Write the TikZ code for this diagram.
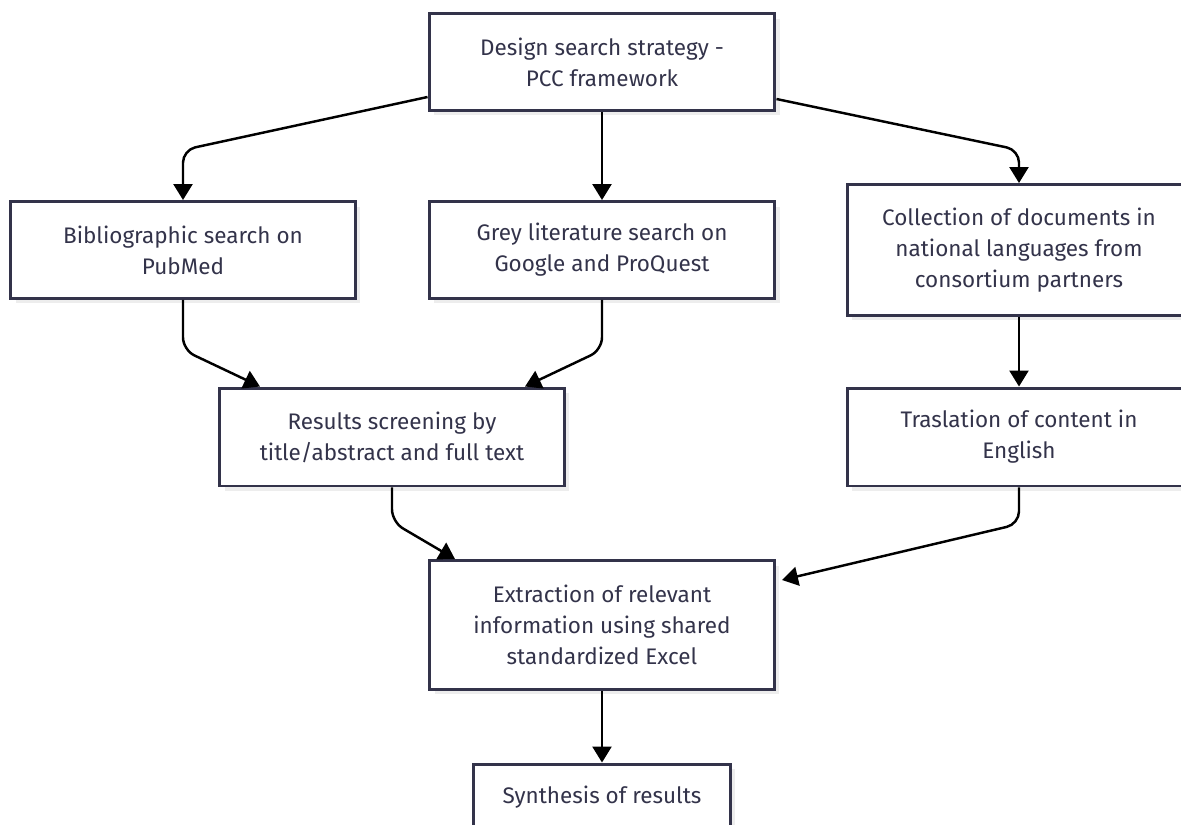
\documentclass[tikz,border=0pt]{standalone}
\usepackage{fontspec}
\setmainfont{Fira Sans}
\usetikzlibrary{arrows.meta,calc,shadows}

\definecolor{boxline}{HTML}{33334A}
\definecolor{boxtext}{HTML}{33334A}

\begin{document}
\begin{tikzpicture}[x=0.02cm, y=-0.02cm,
    box/.style={draw=boxline, line width=1.7pt, fill=white, text=boxtext,
        align=center, inner sep=0pt,
        font=\fontsize{12.8}{17.6}\selectfont,
        drop shadow={shadow xshift=0.1cm, shadow yshift=-0.1cm, fill=black!7, opacity=1}},
    arr/.style={line width=1.4pt, rounded corners=0.25cm,
        -{Triangle[length=0.32cm, width=0.38cm]}}]

        % === FRAME ===
        \useasboundingbox (0,0) rectangle (1181,825);
        \clip (0,0) rectangle (1181,825);

        % === BOXES ===
        \node[box, minimum width=6.92cm, minimum height=1.94cm] (design) at (602,62)
            {Design search strategy -\\PCC framework};
        \node[box, minimum width=6.9cm, minimum height=1.94cm] (biblio) at (183,250)
            {Bibliographic search on\\PubMed};
        \node[box, minimum width=6.92cm, minimum height=1.94cm] (grey) at (602,250)
            {Grey literature search on\\Google and ProQuest};
        \node[box, minimum width=6.88cm, minimum height=2.62cm] (collect) at (1019,250)
            {Collection of documents in\\national languages from\\consortium partners};
        \node[box, minimum width=6.9cm, minimum height=1.96cm] (screen) at (392,437)
            {Results screening by\\title/abstract and full text};
        \node[box, minimum width=6.88cm, minimum height=1.96cm] (transl) at (1019,437)
            {Traslation of content in\\English};
        \node[box, minimum width=6.9cm, minimum height=2.58cm] (extract) at (602,625)
            {Extraction of relevant\\information using shared\\standardized Excel};
        \node[box, minimum width=5.14cm, minimum height=1.32cm] (synth) at (602,797)
            {Synthesis of results};

        % === ARROWS ===
        \draw[arr] ($(design.west)+(0,35)$) -- (183,150) -- (biblio.north);
        \draw[arr] (design.south) -- (grey.north);
        \draw[arr] ($(design.east)+(0,37)$) -- (1019,150) -- (collect.north);

        \draw[arr] (biblio.south) -- (183,350) -- ($(screen.north)+(-132,0)$);
        \draw[arr] (grey.south) -- (602,350) -- ($(screen.north)+(133,0)$);
        \draw[arr] (collect.south) -- (transl.north);

        \draw[arr] (screen.south) -- (392,522) -- ($(extract.north)+(-147,0)$);
        \draw[arr] (transl.south) -- (1019,524) -- ($(extract.east)+(6,-45)$);
        \draw[arr] (extract.south) -- (synth.north);

    \end{tikzpicture}
\end{document}
